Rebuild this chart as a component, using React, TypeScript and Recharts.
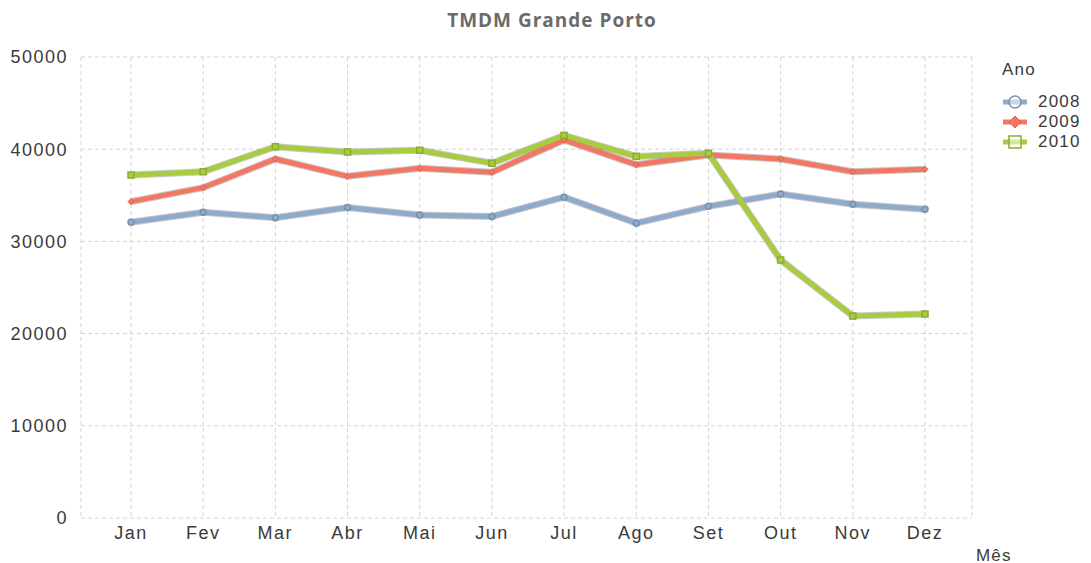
import React from "react";
import { LineChart, Line, XAxis, YAxis, CartesianGrid } from "recharts";

const months = ["Jan", "Fev", "Mar", "Abr", "Mai", "Jun", "Jul", "Ago", "Set", "Out", "Nov", "Dez"];
const ano2008 = [32070, 33150, 32570, 33680, 32860, 32700, 34800, 31980, 33800, 35140, 34030, 33490];
const ano2009 = [34310, 35830, 38940, 37060, 37940, 37500, 41000, 38320, 39370, 38940, 37560, 37820];
const ano2010 = [37200, 37560, 40270, 39700, 39880, 38480, 41500, 39220, 39550, 27980, 21910, 22130];
const yTicks = [0, 10000, 20000, 30000, 40000, 50000];

const data = months.map((mes, i) => ({
  mes,
  "2008": ano2008[i],
  "2009": ano2009[i],
  "2010": ano2010[i],
}));

const series = [
  { key: "2008", color: "#8fabcc", edge: "#7891ad", shape: "circle" },
  { key: "2009", color: "#f47763", edge: "#d8634f", shape: "diamond" },
  { key: "2010", color: "#a9cc3e", edge: "#8dab32", shape: "square" },
];

const tickFont = { fontFamily: "Liberation Sans, Arial, sans-serif", fontSize: 18, fill: "#3a3a3a", letterSpacing: 1.5 };

const Marker = ({ cx, cy, shape, color, edge, size = 4, hollow = false }: any) => {
  if (cx == null || cy == null) return null;
  const fill = hollow ? "#fff" : color;
  if (shape === "square")
    return <rect x={cx - size} y={cy - size} width={size * 2} height={size * 2} fill={fill} fillOpacity={hollow ? 0.5 : 1} stroke={edge} strokeWidth={1.5} />;
  if (shape === "diamond")
    return (
      <path
        d={`M${cx},${cy - size} L${cx + size},${cy} L${cx},${cy + size} L${cx - size},${cy} Z`}
        fill={color}
        stroke={edge}
        strokeWidth={1}
      />
    );
  return <circle cx={cx} cy={cy} r={size} fill={fill} fillOpacity={hollow ? 0.5 : 1} stroke={edge} strokeWidth={1.5} />;
};

// legend drawn beside the chart so it doesn't eat plot space
const LegendBox = () => (
  <div
    style={{
      position: "absolute",
      left: 1000,
      top: 59,
      fontFamily: "Liberation Sans, Arial, sans-serif",
      fontSize: 17,
      color: "#3a3a3a",
      letterSpacing: 1.2,
    }}
  >
    <div style={{ height: 22, lineHeight: "22px", marginBottom: 11, marginLeft: 2 }}>Ano</div>
    {series.map((s) => (
      <div key={s.key} style={{ display: "flex", alignItems: "center", height: 20 }}>
        <svg width={30} height={20}>
          <line x1={3} y1={10} x2={27} y2={10} stroke={s.color} strokeWidth={5} />
          <Marker cx={15} cy={10} shape={s.shape} color={s.color} edge={s.edge} size={6} hollow />
        </svg>
        <span style={{ marginLeft: 8 }}>{s.key}</span>
      </div>
    ))}
  </div>
);

export default function App() {
  return (
    <div style={{ position: "absolute", left: 0, top: 0, width: 1091, height: 563, background: "#fff" }}>
      <LineChart width={1091} height={563} data={data} margin={{ top: 57, right: 119, left: 11, bottom: 15 }}>
        <CartesianGrid stroke="#d4d4d4" strokeDasharray="4 3" />
        <XAxis
          dataKey="mes"
          axisLine={false}
          tickLine={false}
          tickSize={0}
          tickMargin={8}
          height={30}
          padding={{ left: 50, right: 47 }}
          tick={tickFont}
          interval={0}
        />
        <YAxis
          domain={[0, 50000]}
          ticks={yTicks}
          axisLine={false}
          tickLine={false}
          tickSize={0}
          tickMargin={13}
          width={70}
          tick={tickFont}
        />
        {series.map((s) => (
          <Line
            key={"shadow" + s.key}
            dataKey={s.key}
            stroke="#4a4a4a"
            strokeOpacity={0.3}
            strokeWidth={7}
            dot={false}
            activeDot={false}
            legendType="none"
            isAnimationActive={false}
          />
        ))}
        {series.map((s) => (
          <Line
            key={s.key}
            dataKey={s.key}
            stroke={s.color}
            strokeWidth={5}
            dot={(p: any) => <Marker key={p.index} cx={p.cx} cy={p.cy} shape={s.shape} color={s.color} edge={s.edge} size={3} />}
            activeDot={false}
            isAnimationActive={false}
          />
        ))}
      </LineChart>
      <div
        style={{
          position: "absolute",
          left: 0,
          width: 1104,
          top: 7,
          textAlign: "center",
          fontFamily: "Open Sans, sans-serif",
          fontWeight: 700,
          fontSize: 19,
          letterSpacing: 1,
          color: "#6b6b6b",
        }}
      >
        TMDM Grande Porto
      </div>
      <LegendBox />
      <div
        style={{
          position: "absolute",
          left: 976,
          top: 546,
          fontFamily: "Liberation Sans, Arial, sans-serif",
          fontSize: 17,
          letterSpacing: 1.2,
          color: "#3a3a3a",
        }}
      >
        Mês
      </div>
    </div>
  );
}
